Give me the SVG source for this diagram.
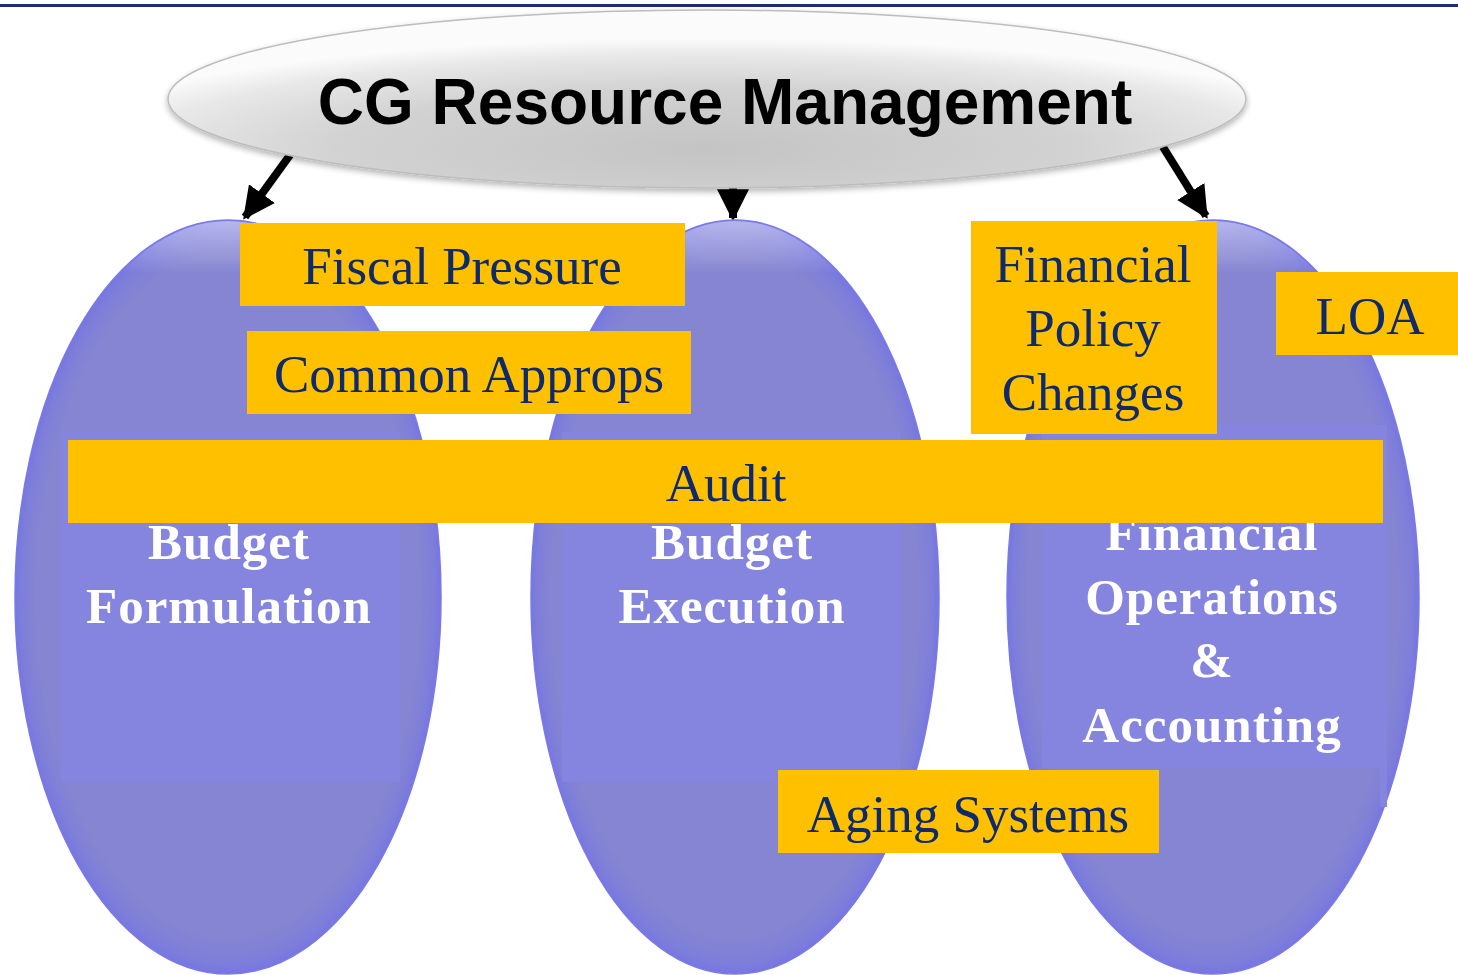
<svg xmlns="http://www.w3.org/2000/svg" width="1458" height="975" viewBox="0 0 1458 975">
<defs>
  <radialGradient id="gTop" cx="0.5" cy="0.78" r="0.62">
    <stop offset="0" stop-color="#C4C4C4"/>
    <stop offset="0.55" stop-color="#D2D2D2"/>
    <stop offset="0.85" stop-color="#E8E8E8"/>
    <stop offset="1" stop-color="#FBFBFB"/>
  </radialGradient>
  <radialGradient id="gPurple" cx="0.5" cy="0.5" r="0.5">
    <stop offset="0" stop-color="#8585D6"/>
    <stop offset="0.9" stop-color="#8585D2"/>
    <stop offset="0.97" stop-color="#7E7EDA"/>
    <stop offset="1" stop-color="#7676E2"/>
  </radialGradient>
  <linearGradient id="gPurpleTop" x1="0" y1="0" x2="0" y2="1">
    <stop offset="0" stop-color="#FFFFFF" stop-opacity="0.45"/>
    <stop offset="0.07" stop-color="#FFFFFF" stop-opacity="0"/>
    <stop offset="1" stop-color="#FFFFFF" stop-opacity="0"/>
  </linearGradient>
  <filter id="shadow" x="-10%" y="-20%" width="120%" height="150%">
    <feGaussianBlur in="SourceAlpha" stdDeviation="3"/>
    <feOffset dy="3"/>
    <feComponentTransfer><feFuncA type="linear" slope="0.3"/></feComponentTransfer>
    <feMerge><feMergeNode/><feMergeNode in="SourceGraphic"/></feMerge>
  </filter>
  <marker id="ah" viewBox="0 0 10 10" refX="9" refY="5" markerWidth="4" markerHeight="4" orient="auto" markerUnits="strokeWidth">
    <path d="M0,0 L10,5 L0,10 z" fill="#000"/>
  </marker>
  <style>
    .pur { fill: url(#gPurple); stroke: #7A7AE6; stroke-width: 1.5; }
    .purtop { fill: url(#gPurpleTop); }
    .inner { fill: #8585DF; }
    .box { fill: #FFC000; }
    .lbl { font-family: "Liberation Serif", "Times New Roman", serif; font-size: 53px; fill: #0E2A6A; text-anchor: middle; }
    .wht { font-family: "Liberation Serif", "Times New Roman", serif; font-size: 51px; font-weight: bold; fill: #FFFFFF; text-anchor: middle; letter-spacing: 1px; }
    .title { font-family: "Liberation Sans", Arial, sans-serif; font-size: 64px; font-weight: bold; fill: #000; text-anchor: middle; }
    .conn { stroke: #000; stroke-width: 8; fill: none; marker-end: url(#ah); }
  </style>
</defs>

<rect x="0" y="0" width="1458" height="975" fill="#FFFFFF"/>
<rect x="0" y="4" width="1458" height="3" fill="#1A2F6E"/>

<g id="connectors">
  <line class="conn" x1="290" y1="155" x2="245" y2="217"/>
  <line class="conn" x1="733" y1="180" x2="733" y2="218"/>
  <line class="conn" x1="1163" y1="147" x2="1206" y2="216"/>
</g>

<g id="node-root">
  <ellipse cx="707" cy="99" rx="539" ry="89" fill="url(#gTop)" stroke="#BDBDBD" stroke-width="1.5" filter="url(#shadow)"/>
  <text class="title" x="725" y="124">CG Resource Management</text>
</g>

<g id="node-budget-formulation">
  <ellipse class="pur" cx="228" cy="597" rx="213" ry="377"/>
  <ellipse class="purtop" cx="228" cy="597" rx="212" ry="376"/>
  <rect class="inner" x="61" y="432" width="339" height="350"/>
  <text class="wht" x="229" y="559">Budget</text>
  <text class="wht" x="229" y="623">Formulation</text>
</g>

<g id="node-budget-execution">
  <ellipse class="pur" cx="735" cy="597" rx="204" ry="377"/>
  <ellipse class="purtop" cx="735" cy="597" rx="203" ry="376"/>
  <rect class="inner" x="562" y="432" width="338" height="350"/>
  <text class="wht" x="732" y="559">Budget</text>
  <text class="wht" x="732" y="623">Execution</text>
</g>

<g id="node-financial-operations">
  <ellipse class="pur" cx="1213" cy="597" rx="206" ry="377"/>
  <ellipse class="purtop" cx="1213" cy="597" rx="205" ry="376"/>
  <rect class="inner" x="1042" y="425" width="338" height="343"/>
  <rect class="inner" x="1380" y="425" width="7" height="382"/>
  <text class="wht" x="1212" y="550">Financial</text>
  <text class="wht" x="1212" y="614">Operations</text>
  <text class="wht" x="1212" y="677">&amp;</text>
  <text class="wht" x="1212" y="742">Accounting</text>
</g>

<g id="node-fiscal-pressure">
  <rect class="box" x="240" y="223" width="445" height="83"/>
  <text class="lbl" x="462" y="284">Fiscal Pressure</text>
</g>

<g id="node-common-approps">
  <rect class="box" x="247" y="331" width="444" height="83"/>
  <text class="lbl" x="469" y="392">Common Approps</text>
</g>

<g id="node-financial-policy">
  <rect class="box" x="971" y="221" width="246" height="213"/>
  <text class="lbl" x="1093" y="282">Financial</text>
  <text class="lbl" x="1093" y="346">Policy</text>
  <text class="lbl" x="1093" y="410">Changes</text>
</g>

<g id="node-loa">
  <rect class="box" x="1276" y="272" width="182" height="83"/>
  <text class="lbl" x="1370" y="334">LOA</text>
</g>

<g id="node-audit">
  <rect class="box" x="68" y="440" width="1315" height="83"/>
  <text class="lbl" x="726" y="501">Audit</text>
</g>

<g id="node-aging-systems">
  <rect class="box" x="778" y="770" width="381" height="83"/>
  <text class="lbl" x="968" y="832">Aging Systems</text>
</g>
</svg>
